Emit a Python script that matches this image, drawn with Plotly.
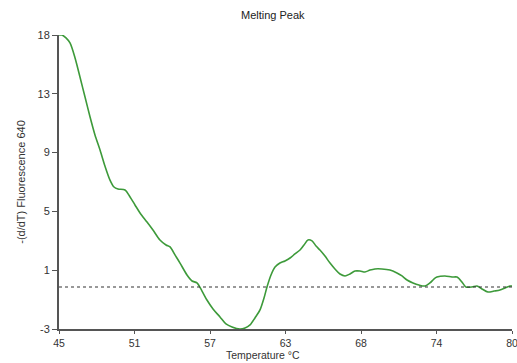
import plotly.graph_objects as go

temperature = [45, 45.23, 45.54, 45.85, 46.24, 46.62, 47.01, 47.40, 47.78, 48.17, 48.55, 48.94,
               49.25, 49.56, 50.10, 50.49, 50.87, 51.26, 51.80, 52.26, 52.80, 53.27, 53.58, 53.96,
               54.35, 54.89, 55.28, 55.66, 56.05, 56.43, 56.90, 57.44, 57.90, 58.37, 58.98, 59.37,
               59.76, 60.14, 60.53, 60.84, 61.07, 61.38, 61.69, 62.07, 62.46, 62.85, 63.23, 63.62,
               63.93, 64.24, 64.55, 64.86, 65.16, 65.55, 65.94, 66.32, 66.71, 67.10, 67.48, 67.87,
               68.26, 68.64, 69.03, 69.41, 69.95, 70.57, 71.11, 71.50, 71.89, 72.35, 72.81, 73.28,
               73.66, 73.97, 74.20, 74.82, 75.36, 75.75, 76.13, 76.44, 76.91, 77.29, 77.68, 78.14,
               78.61, 79.07, 79.46, 79.84, 80.0]
fluorescence = [18.0, 18.0, 17.79, 17.43, 16.36, 15.0, 13.57, 12.14, 10.86, 9.79, 8.64, 7.64,
                7.14, 7.0, 6.93, 6.43, 5.86, 5.29, 4.64, 4.07, 3.36, 3.0, 2.86, 2.29,
                1.71, 0.86, 0.43, 0.29, -0.29, -0.93, -1.57, -2.14, -2.64, -2.86, -3.0, -2.93,
                -2.71, -2.21, -1.64, -0.79, 0.0, 0.86, 1.43, 1.71, 1.86, 2.07, 2.36, 2.64,
                3.0, 3.36, 3.29, 2.93, 2.64, 2.21, 1.71, 1.29, 0.93, 0.79, 0.93, 1.14,
                1.14, 1.07, 1.21, 1.29, 1.29, 1.21, 1.0, 0.79, 0.5, 0.29, 0.14, 0.07,
                0.29, 0.57, 0.71, 0.79, 0.71, 0.71, 0.36, 0.0, 0.0, 0.07, -0.14, -0.36,
                -0.29, -0.21, -0.07, 0.07, 0.07]

x_tick_vals = [45 + i * 35 / 6 for i in range(7)]
x_tick_text = ["45", "51", "57", "63", "68", "74", "80"]
y_tick_vals = [-3 + i * 21 / 5 for i in range(6)]
y_tick_text = ["-3", "1", "5", "9", "13", "18"]
baseline = 0

font = "Liberation Sans, Arial, sans-serif"

fig = go.Figure()
fig.add_trace(go.Scatter(x=temperature, y=fluorescence, mode="lines",
                         line=dict(color="#3d9a3a", width=1.6, shape="spline", smoothing=0.8),
                         showlegend=False, hoverinfo="skip", cliponaxis=False))
fig.add_shape(type="line", xref="paper", x0=0, x1=1, yref="y", y0=baseline, y1=baseline,
              line=dict(color="#333333", width=1.2, dash="dot"))

fig.add_annotation(text="Melting Peak", xref="paper", yref="paper", x=0.473, y=1.068,
                   xanchor="center", yanchor="middle", showarrow=False,
                   font=dict(size=11, color="#222222"))
fig.add_annotation(text="Temperature °C", xref="paper", yref="paper", x=0.450, y=-0.088,
                   xanchor="center", yanchor="middle", showarrow=False,
                   font=dict(size=10.5, color="#333333"))

fig.update_layout(
    width=517, height=363,
    margin=dict(l=59, r=5, t=35, b=34, autoexpand=False),
    paper_bgcolor="white", plot_bgcolor="white",
    font=dict(family=font, size=11, color="#333333"),
    xaxis=dict(range=[45, 80], tickvals=x_tick_vals, ticktext=x_tick_text, automargin=False,
               showgrid=False, zeroline=False, showline=True, linecolor="#555555", linewidth=2,
               ticks="outside", ticklen=3, tickcolor="#555555", ticklabeloverflow="allow",
               tickfont=dict(size=10.5)),
    yaxis=dict(range=[-3, 18], tickvals=y_tick_vals, ticktext=y_tick_text, automargin=False,
               showgrid=False, zeroline=False, showline=True, linecolor="#555555", linewidth=2,
               ticks="outside", ticklen=5, tickcolor="#555555", ticklabeloverflow="allow",
               title=dict(text="-(d/dT) Fluorescence 640", standoff=10, font=dict(size=11))),
)

fig.write_html("out.html", config={"displayModeBar": False},
               post_script="document.body.style.margin='0';document.body.style.overflow='hidden';")
